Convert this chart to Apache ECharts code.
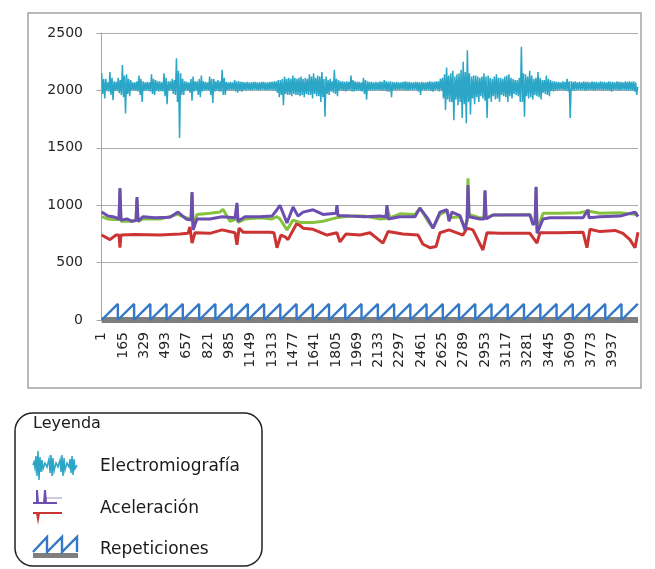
<!DOCTYPE html>
<html><head><meta charset="utf-8">
<script src="https://cdn.jsdelivr.net/npm/echarts@6/dist/echarts.min.js"></script>
<style>html,body{margin:0;padding:0;background:#fff}#c{width:655px;height:569px}</style>
</head><body><div id="c"></div><script>
// x tick labels (sample index)
const tickLabels = ['1','165','329','493','657','821','985','1149','1313','1477','1641','1805','1969','2133','2297','2461','2625','2789','2953','3117','3281','3445','3609','3773','3937'];

// Electromiografía, one value every emgStep samples starting at sample 1
const emgStep = 8;
const emg = [
2150,1970,2100,1930, 2100,2000,2070,1990, 2160,1960,2110,1915, 2080,2000,2075,1995, 2110,1975,2090,1960, 2220,1940,2130,1800, 2140,1970,2100,1950, 2090,2000,2070,2000, 2070,2000,2080,1990, 2130,1960,2100,1900,
2080,2000,2070,2000, 2075,2000,2070,1990, 2140,1970,2100,1960, 2090,2000,2080,1990, 2080,1995,2070,1990, 2150,1950,2110,1880, 2080,2000,2080,2000, 2100,1970,2090,1960, 2280,1900,2170,1585, 2150,1960,2100,1960,
2080,2000,2075,2000, 2070,1980,2100,1910, 2120,1990,2080,2000, 2080,1960,2100,1940, 2130,1990,2080,2000, 2075,2000,2070,2000, 2120,1960,2100,1890, 2100,1990,2080,2000, 2090,1990,2080,1990, 2180,1960,2110,1960,
2075,2005,2070,2000, 2075,2005,2070,2000, 2090,1990,2080,1980, 2080,1995,2075,1990, 2075,2005,2070,2000, 2075,2005,2070,2000, 2070,2005,2075,2005, 2075,2005,2070,2000, 2070,2005,2075,2005, 2075,2005,2070,2000,
2070,2005,2075,2005, 2075,2000,2080,2000, 2080,1980,2090,1940, 2090,1960,2100,1870, 2120,1970,2100,1960, 2110,1960,2100,1950, 2130,1970,2110,1960, 2100,1960,2110,1950, 2120,1960,2100,1940, 2110,1970,2100,1960,
2140,1960,2120,1930, 2150,1970,2110,1950, 2130,1950,2120,1900, 2160,1940,2100,1770, 2120,1970,2090,1960, 2100,1990,2080,1980, 2180,1970,2100,1950, 2090,2000,2080,2000, 2080,1995,2075,1990, 2080,2000,2075,2000,
2130,1990,2090,1990, 2080,2000,2075,2000, 2075,1995,2070,1990, 2110,1970,2090,1920, 2080,2000,2075,2000, 2075,2005,2070,2000, 2075,2005,2070,2000, 2080,2000,2075,2000, 2090,1995,2080,1990, 2075,1990,2080,1940,
2075,2005,2070,2000, 2075,2005,2070,2005, 2070,2005,2075,2005, 2080,2000,2075,2000, 2075,2005,2070,2005, 2070,2005,2075,2005, 2075,1990,2070,1960, 2075,2005,2070,2000, 2070,2005,2075,2005, 2080,1995,2075,1990,
2075,2005,2080,2005, 2080,1990,2100,2000, 2110,1930,2140,1830, 2200,1920,2130,1900, 2150,1900,2170,1740, 2120,1920,2140,1870, 2150,1900,2180,1760, 2250,1880,2160,1715, 2350,1900,2150,1790, 2120,1930,2130,1880,
2130,1940,2120,1900, 2110,1950,2120,1930, 2150,1910,2120,1760, 2130,1930,2110,1900, 2100,1950,2120,1920, 2140,1930,2110,1900, 2110,1960,2100,1950, 2120,1940,2130,1900, 2140,1950,2110,1930, 2100,1970,2090,1960,
2090,1950,2110,1900, 2380,1900,2150,1770, 2140,1950,2120,1930, 2170,1940,2130,1920, 2100,1960,2110,1950, 2160,1940,2110,1920, 2090,1980,2090,1970, 2130,1960,2100,1950, 2090,1995,2080,1990, 2080,2000,2075,2000,
2075,2005,2070,2005, 2080,2000,2075,2000, 2100,1990,2080,1760, 2080,2000,2075,2000, 2080,2005,2070,2005, 2075,2005,2070,2005, 2080,2000,2075,2000, 2075,2005,2070,2005, 2080,2000,2075,2000, 2075,2005,2070,2005,
2080,2000,2075,2000, 2075,2005,2070,2000, 2080,1995,2075,1990, 2075,2005,2070,2005, 2080,2000,2075,2000, 2075,2005,2070,2005, 2080,2000,2075,2000, 2080,2000,2075,2000, 2080,1990,2070,1960, 2030];

// Aceleración: [sample, value]
const accX = [[1,900],[50,880],[89,875],[135,875],[142,1130],[150,860],[219,860],[266,865],[273,1050],[281,860],[320,880],[450,880],[589,920],[651,890],[690,880],[697,1100],[705,800],[735,920],[835,930],[912,940],[935,965],[989,860],[1036,880],[1043,1000],[1051,850],[1105,880],[1220,890],[1313,880],[1351,900],[1374,880],[1428,785],[1475,870],[1528,850],[1629,850],[1706,860],[1806,890],[1813,905],[1913,905],[2029,905],[2144,880],[2191,885],[2198,980],[2221,890],[2298,925],[2414,920],[2452,975],[2514,860],[2553,800],[2606,920],[2660,950],[2676,890],[2760,900],[2799,800],[2815,860],[2822,1235],[2830,920],[2914,890],[2946,890],[2953,1120],[2961,890],[3015,915],[3299,920],[3323,850],[3339,860],[3346,1150],[3354,780],[3400,930],[3530,930],[3684,935],[3746,950],[3838,930],[3992,935],[4108,920],[4131,925]];
const accY = [[1,940],[11,930],[50,905],[89,900],[135,880],[142,1150],[150,870],[196,880],[235,860],[266,870],[273,1070],[281,860],[320,900],[412,890],[527,895],[589,940],[651,880],[689,870],[697,1115],[705,785],[735,880],[835,880],[928,900],[1028,890],[1043,1020],[1051,860],[1105,900],[1220,900],[1313,905],[1351,960],[1374,1000],[1428,845],[1475,985],[1513,905],[1552,940],[1629,960],[1706,920],[1806,930],[1813,1000],[1821,910],[1913,905],[2029,900],[2144,905],[2191,900],[2198,1000],[2206,880],[2298,900],[2414,900],[2452,975],[2514,880],[2553,800],[2606,940],[2660,960],[2676,860],[2699,940],[2760,910],[2799,785],[2815,880],[2822,1175],[2830,900],[2914,880],[2946,880],[2953,1130],[2961,880],[3015,915],[3145,915],[3299,915],[3323,830],[3339,850],[3346,1160],[3354,755],[3400,880],[3453,890],[3607,890],[3708,890],[3746,960],[3754,890],[3838,900],[3992,905],[4108,940],[4131,900]];
const accZ = [[1,740],[11,725],[65,700],[112,740],[135,740],[142,630],[150,740],[258,745],[450,740],[604,750],[666,755],[681,810],[697,670],[720,760],[835,755],[928,785],[1028,760],[1043,655],[1059,800],[1090,765],[1297,765],[1328,760],[1351,630],[1382,740],[1413,725],[1436,700],[1505,845],[1552,800],[1629,790],[1736,740],[1813,760],[1836,680],[1883,750],[1990,740],[2067,760],[2167,670],[2206,770],[2321,750],[2437,740],[2475,660],[2529,630],[2576,640],[2606,760],[2676,785],[2783,740],[2814,800],[2860,785],[2937,610],[2968,760],[3068,755],[3299,755],[3353,670],[3376,760],[3530,760],[3708,765],[3738,630],[3761,790],[3838,770],[3954,780],[4015,755],[4069,700],[4108,630],[4131,765]];

// Repeticiones: sample at which each repetition ends, and counter peak
const repEnds = [126,251,376,501,626,752,877,1002,1127,1252,1377,1502,1627,1752,1877,2002,2128,2253,2378,2503,2628,2753,2878,3003,3128,3253,3379,3504,3629,3754,3879,4004,4129];
const repPeak = 140;
const baseline = [[1,0],[4131,0]];

const repData = [[1,0]];
repEnds.forEach((e,i)=>{ repData.push([e,repPeak]); if(i<repEnds.length-1) repData.push([e,0]); });

const F = 'DejaVu Sans';
const C = {emg:'#2ba6c6', x:'#86c23e', y:'#6b4eb0', z:'#cc3434', rep:'#3478c6', base:'#7f7f7f'};

const chart = echarts.init(document.getElementById('c'), null, {renderer:'canvas'});
const line = (name, data, color, w, z) => ({type:'line', name, data, showSymbol:false, symbol:'none', lineStyle:{color, width:w}, itemStyle:{color}, z, animation:false, silent:true});
chart.setOption({
  animation:false,
  backgroundColor:'#fff',
  grid:{left:98, right:17, top:33, bottom:249, containLabel:false, outerBoundsMode:'none'},
  xAxis:{type:'value', min:-27, max:4131,
    axisLine:{show:true, lineStyle:{color:'#a6a6a6'}},
    axisTick:{show:false},
    splitLine:{show:false},
    axisLabel:{customValues:tickLabels.map(Number), rotate:90, margin:12, fontFamily:F, fontSize:14, color:'#262626', formatter:v=>String(v)}
  },
  yAxis:{type:'value', min:0, max:2500, interval:500,
    axisLine:{show:true, lineStyle:{color:'#a6a6a6'}},
    axisTick:{show:true, length:5, lineStyle:{color:'#a6a6a6'}},
    splitLine:{show:true, lineStyle:{color:'#ababab', width:1}},
    axisLabel:{margin:15, fontFamily:F, fontSize:14, color:'#262626', formatter:v=>String(v)}
  },
  legend:{orient:'vertical', left:33, top:447, itemWidth:57, itemHeight:30, itemGap:18,
    data:[{name:'Electromiografía', icon:'none'},{name:'Aceleración', icon:'none'},{name:'Repeticiones', icon:'none'}],
    textStyle:{fontFamily:F, fontSize:17, color:'#1a1a1a'}, selectedMode:false},
  series:[
    line('Electromiografía', emg.map((v,i)=>[1+i*emgStep, v]), C.emg, 1.5, 2),
    line('Aceleración', accZ, C.z, 3, 3),
    line('Aceleración', accX, C.x, 3, 3),
    line('Aceleración', accY, C.y, 3, 3),
    line('Repeticiones', baseline, C.base, 6, 4),
    line('Repeticiones', repData, C.rep, 2.4, 5)
  ],
  graphic:[
    {type:'rect', shape:{x:28, y:13, width:613, height:375}, style:{fill:'none', stroke:'#a3a3a3', lineWidth:1.5}, silent:true, z:0},
    {type:'rect', shape:{x:15, y:413, width:247, height:153, r:18}, style:{fill:'none', stroke:'#222', lineWidth:1.5}, silent:true},
    {type:'text', x:33, y:424, style:{text:'Leyenda', font:'16px "DejaVu Sans"', fill:'#1a1a1a', verticalAlign:'middle'}, silent:true},
    {type:'polyline', shape:{points:[[33,465],[34,462],[35,468],[36,456],[37,476],[38,451],[39,480],[40,457],[41,472],[42,460],[43,469],[45,463],[47,467],[49,459],[50,473],[51,455],[52,476],[53,458],[54,471],[56,463],[58,467],[60,460],[61,472],[62,455],[63,476],[64,458],[65,470],[67,463],[69,467],[70,459],[71,473],[72,456],[73,475],[74,459],[75,469],[77,465]]}, style:{stroke:C.emg, lineWidth:1.5, fill:'none'}, silent:true},
    {type:'polyline', shape:{points:[[46,498],[62,498]]}, style:{stroke:'#b5a8c8', lineWidth:1.2}, silent:true},
    {type:'polyline', shape:{points:[[33,503],[37,503],[37,490],[38,503],[44,503],[45,490],[46,503],[57,503]]}, style:{stroke:C.y, lineWidth:2}, silent:true},
    {type:'polyline', shape:{points:[[33,513],[37,513],[38,519],[39,513],[62,513]]}, style:{stroke:C.z, lineWidth:2}, silent:true},
    {type:'rect', shape:{x:33, y:553, width:45, height:5}, style:{fill:C.base}, silent:true},
    {type:'polyline', shape:{points:[[33,552],[47,537],[47,552],[62,537],[62,552],[77,537],[77,552]]}, style:{stroke:C.rep, lineWidth:2.4, fill:'none'}, silent:true}
  ]
});
</script></body></html>
